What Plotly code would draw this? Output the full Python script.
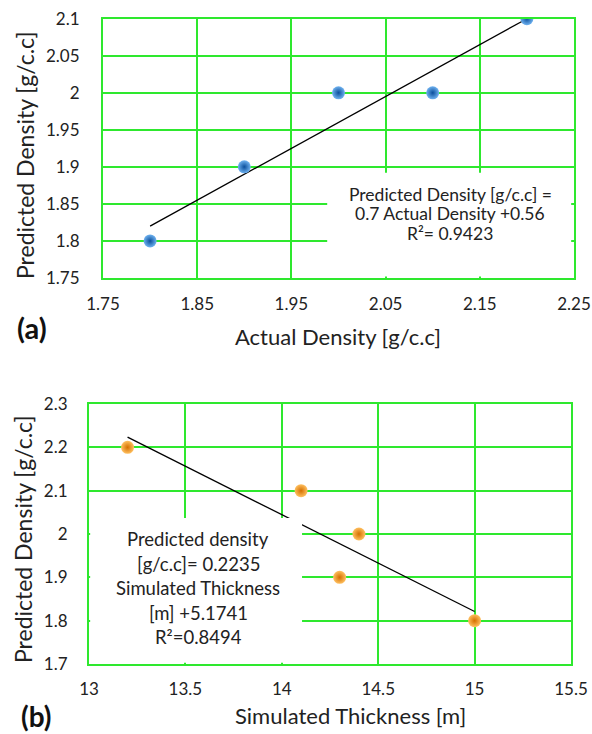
import plotly.graph_objects as go
import numpy as np

# Panel (a) data
actual_density = [1.8, 1.9, 2.0, 2.1, 2.2]
predicted_density_a = [1.8, 1.9, 2.0, 2.0, 2.1]
xa_ticks = [1.75, 1.85, 1.95, 2.05, 2.15, 2.25]
xa_ticktext = ["1.75", "1.85", "1.95", "2.05", "2.15", "2.25"]
ya_ticks = [1.75, 1.8, 1.85, 1.9, 1.95, 2.0, 2.05, 2.1]
ya_ticktext = ["1.75", "1.8", "1.85", "1.9", "1.95", "2", "2.05", "2.1"]
eq_a_lines = ["Predicted Density [g/c.c] =", "0.7 Actual Density +0.56", "R²= 0.9423"]

# Panel (b) data
sim_thickness = [13.2, 14.1, 14.4, 14.3, 15.0]
predicted_density_b = [2.2, 2.1, 2.0, 1.9, 1.8]
xb_ticks = [13, 13.5, 14, 14.5, 15, 15.5]
xb_ticktext = ["13", "13.5", "14", "14.5", "15", "15.5"]
yb_ticks = [1.7, 1.8, 1.9, 2.0, 2.1, 2.2, 2.3]
yb_ticktext = ["1.7", "1.8", "1.9", "2", "2.1", "2.2", "2.3"]
eq_b_lines = ["Predicted density", "[g/c.c]= 0.2235", "Simulated Thickness", "[m] +5.1741", "R²=0.8494"]

FONT = "Lato"
GRID = "#2ee82e"
W, H = 592, 734

# trend lines (least squares)
sa, ia = np.polyfit(actual_density, predicted_density_a, 1)
sb, ib = np.polyfit(sim_thickness, predicted_density_b, 1)
xa_line = [min(actual_density), max(actual_density)]
xb_line = [min(sim_thickness), max(sim_thickness)]

fig = go.Figure()
fig.add_trace(go.Scatter(x=xa_line, y=[sa * v + ia for v in xa_line], mode="lines",
                         line=dict(color="black", width=1.3), xaxis="x", yaxis="y", showlegend=False))
fig.add_trace(go.Scatter(x=actual_density, y=predicted_density_a, mode="markers",
                         marker=dict(size=13, color="#6fb2f0", line=dict(width=0),
                                     gradient=dict(type="radial", color="#0b4f9c")),
                         xaxis="x", yaxis="y", showlegend=False))
fig.add_trace(go.Scatter(x=xb_line, y=[sb * v + ib for v in xb_line], mode="lines",
                         line=dict(color="black", width=1.3), xaxis="x2", yaxis="y2", showlegend=False))
fig.add_trace(go.Scatter(x=sim_thickness, y=predicted_density_b, mode="markers",
                         marker=dict(size=13, color="#ffc060", line=dict(width=0),
                                     gradient=dict(type="radial", color="#d46f00")),
                         xaxis="x2", yaxis="y2", showlegend=False))

axis_common = dict(showgrid=True, gridcolor=GRID, gridwidth=1.5, showline=True, linecolor=GRID,
                   linewidth=2, mirror=True, zeroline=False, ticks="", automargin=False,
                   tickfont=dict(family=FONT, size=17, color="#222"))

fig.update_layout(
    width=W, height=H, margin=dict(l=0, r=0, t=0, b=0, autoexpand=False),
    paper_bgcolor="white", plot_bgcolor="white",
    xaxis=dict(domain=[103/W, 574/W], range=[1.75, 2.25], tickvals=xa_ticks, ticktext=xa_ticktext,
               anchor="y", ticklabelstandoff=10, **axis_common),
    yaxis=dict(domain=[1-278/H, 1-18.7/H], range=[1.75, 2.1], tickvals=ya_ticks, ticktext=ya_ticktext,
               anchor="x", ticklabelstandoff=18, **axis_common),
    xaxis2=dict(domain=[89/W, 571/W], range=[13, 15.5], tickvals=xb_ticks, ticktext=xb_ticktext,
                anchor="y2", ticklabelstandoff=9, **axis_common),
    yaxis2=dict(domain=[1-664/H, 1-404/H], range=[1.7, 2.3], tickvals=yb_ticks, ticktext=yb_ticktext,
                anchor="x2", ticklabelstandoff=16, **axis_common),
)

# white boxes behind equations
fig.add_shape(type="rect", xref="x", yref="y", x0=1.988, x1=2.247, y0=1.752, y1=1.892,
              fillcolor="white", line=dict(width=0), layer="above")
fig.add_shape(type="rect", xref="x2", yref="y2", x0=13.006, x1=14.105, y0=1.703, y1=2.037,
              fillcolor="white", line=dict(width=0), layer="above")


def label(text, px, py, size, angle=0, color="#222"):
    fig.add_annotation(xref="paper", yref="paper", x=px / W, y=1 - py / H, showarrow=False,
                       xanchor="center", yanchor="middle", textangle=angle,
                       text=text, font=dict(family=FONT, size=size, color=color))


# equation texts, one line each (pixel positions of reference lines)
for txt, py in zip(eq_a_lines, [194, 213.5, 233]):
    label(txt, 450, py, 17.5)
for txt, py in zip(eq_b_lines, [539, 563.5, 588, 612.5, 637]):
    label(txt, 198, py, 18.5)

# axis titles
label("Actual Density [g/c.c]", 338, 337, 22)
label("Predicted Density [g/c.c]", 25, 156, 23, angle=-90)
label("Simulated Thickness [m]", 350, 715, 22)
label("Predicted Density [g/c.c]", 23, 540, 23, angle=-90)

# panel labels
label("<b>(a)</b>", 32, 328, 29, color="#111")
label("<b>(b)</b>", 36, 716, 28, color="#111")

fig.write_html("out.html")
